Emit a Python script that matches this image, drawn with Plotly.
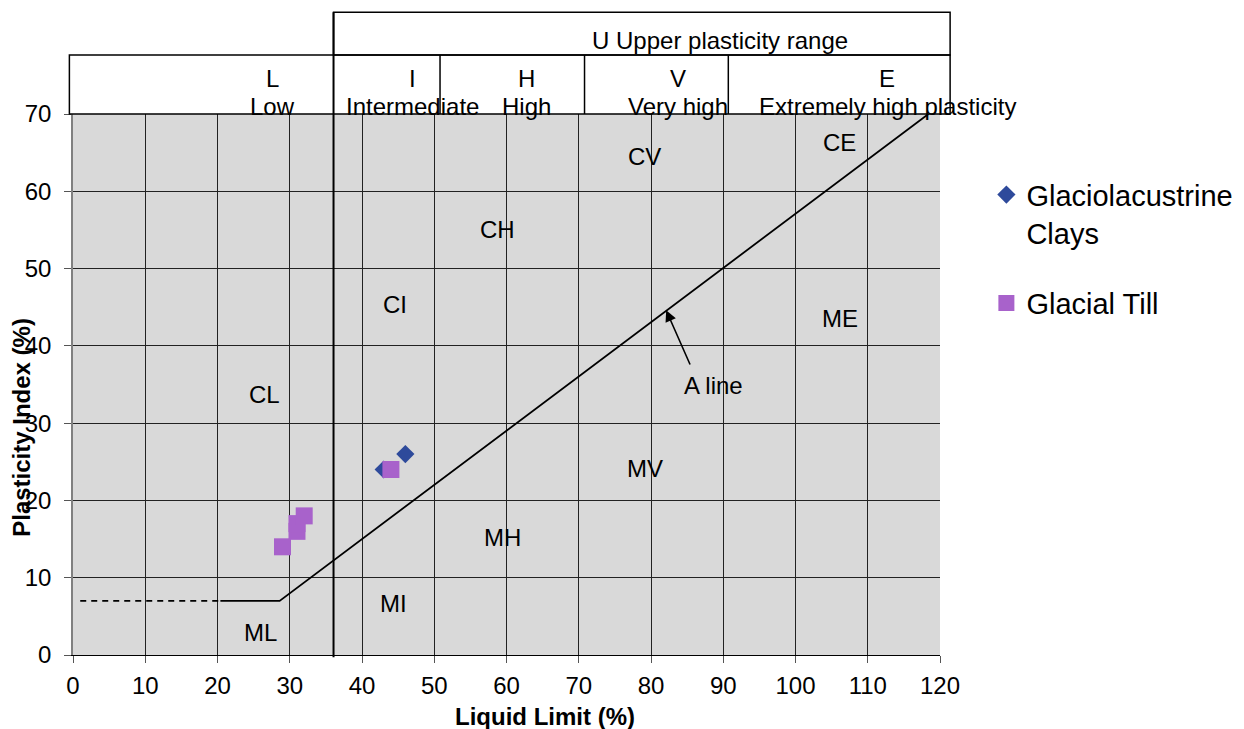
import plotly.graph_objects as go

# ---- data ----
clay_ll = [43, 46]
clay_pi = [24, 26]
till_ll = [44, 29, 31, 31, 32]
till_pi = [24, 14, 16, 17, 18]

aline_ll = [20.4, 28.6, 118.4]
aline_pi = [7, 7, 70]
dash_ll = [1, 20.4]
dash_pi = [7, 7]

zone_labels = ["CL", "ML", "MI", "CI", "CH", "MH", "CV", "MV", "CE", "ME"]
zone_ll = [26.5, 25.9, 44.3, 44.6, 58.7, 59.5, 79.1, 79.2, 106.1, 106.2]
zone_pi = [33.7, 2.9, 6.6, 45.3, 55.0, 15.2, 64.5, 24.1, 66.3, 43.5]

band_letters = ["L", "I", "H", "V", "E"]
band_names = ["Low", "Intermediate", "High", "Very high", "Extremely high plasticity"]
band_x = [27.6, 47.0, 62.8, 83.7, 112.7]
band_edges = [-0.5, 36.06, 50.8, 70.8, 90.7, 121.4]
upper_label = "U Upper plasticity range"

xticks = list(range(0, 121, 10))
yticks = list(range(0, 71, 10))

X_MAX, Y_MAX = 120.0, 70.0
FONT = "Arial, Liberation Sans, sans-serif"
FS = 24


def px_(v):
    return v / X_MAX


def py_(v):
    return v / Y_MAX


fig = go.Figure()

fig.add_trace(go.Scatter(x=dash_ll, y=dash_pi, mode="lines",
                         line=dict(color="black", width=1.6, dash="6px,5px"),
                         showlegend=False, hoverinfo="skip"))
fig.add_trace(go.Scatter(x=aline_ll, y=aline_pi, mode="lines",
                         line=dict(color="black", width=1.8),
                         showlegend=False, hoverinfo="skip"))

fig.add_trace(go.Scatter(x=clay_ll, y=clay_pi, mode="markers",
                         name="Glaciolacustrine<br>Clays", legendgroup="a",
                         marker=dict(symbol="diamond", size=14, color="#2E4A9B"),
                         cliponaxis=False))
fig.add_trace(go.Scatter(x=till_ll, y=till_pi, mode="markers",
                         name="Glacial Till", legendgroup="b",
                         marker=dict(symbol="square", size=17, color="#A862CB"),
                         cliponaxis=False))

txt_font = dict(size=FS, color="black", family=FONT)

# zone labels
for t, x, y in zip(zone_labels, zone_ll, zone_pi):
    fig.add_annotation(x=x, y=y, text=t, showarrow=False, font=txt_font)

# A line label and arrow
fig.add_annotation(x=88.6, y=34.9, text="A line", showarrow=False, font=txt_font)
fig.add_annotation(x=82.1, y=44.6, ax=85.5, ay=37.4, axref="x", ayref="y",
                   text="", showarrow=True, arrowhead=2, arrowsize=1.4,
                   arrowwidth=1.6, arrowcolor="black")

# header boxes (paper coordinates, since they lie outside the axis ranges)
Y_TOP, Y_MID, Y_BOT = 83.15, 77.63, 70.0
box_line = dict(color="black", width=1.5)
fig.add_shape(type="rect", x0=px_(band_edges[1]), x1=px_(band_edges[-1]),
              y0=py_(Y_MID), y1=py_(Y_TOP),
              xref="paper", yref="paper", line=box_line, layer="above")
fig.add_shape(type="rect", x0=px_(band_edges[0]), x1=px_(band_edges[-1]),
              y0=py_(Y_BOT), y1=py_(Y_MID),
              xref="paper", yref="paper", line=box_line, layer="above")
for e in band_edges[2:-1]:
    fig.add_shape(type="line", x0=px_(e), x1=px_(e), y0=py_(Y_BOT), y1=py_(Y_MID),
                  xref="paper", yref="paper", line=box_line, layer="above")
# thick vertical boundary line at LL = 36
fig.add_shape(type="line", x0=px_(band_edges[1]), x1=px_(band_edges[1]),
              y0=py_(-0.3), y1=py_(Y_TOP),
              xref="paper", yref="paper", line=dict(color="black", width=2), layer="above")

fig.add_annotation(x=px_(89.6), y=py_(79.45), text=upper_label, showarrow=False,
                   xref="paper", yref="paper", xanchor="center", yanchor="middle",
                   font=txt_font)
for L, n, x in zip(band_letters, band_names, band_x):
    fig.add_annotation(x=px_(x), y=py_(74.6), text=L, showarrow=False,
                       xref="paper", yref="paper", xanchor="center", yanchor="middle",
                       font=txt_font)
    fig.add_annotation(x=px_(x), y=py_(70.95), text=n, showarrow=False,
                       xref="paper", yref="paper", xanchor="center", yanchor="middle",
                       font=txt_font)

# axis titles
fig.add_annotation(x=-0.0588, y=0.42, xref="paper", yref="paper",
                   xanchor="center", yanchor="middle",
                   text="<b>Plasticity Index (%)</b>", textangle=-90, showarrow=False,
                   font=dict(size=24, color="black", family=FONT))
fig.add_annotation(x=(545 - 73) / 867, y=-(716 - 655) / 541, xref="paper", yref="paper",
                   xanchor="center", yanchor="middle",
                   text="<b>Liquid Limit (%)</b>", showarrow=False,
                   font=dict(size=24, color="black", family=FONT))

fig.update_xaxes(range=[0, X_MAX], tickvals=xticks, showgrid=True, gridcolor="#222222",
                 gridwidth=1, zeroline=False, showline=True, linecolor="black",
                 linewidth=1, ticks="outside", ticklen=7, tickcolor="#555555",
                 ticklabelstandoff=2,
                 tickfont=dict(size=FS, color="black", family=FONT))
fig.update_yaxes(range=[0, Y_MAX], tickvals=yticks, showgrid=True, gridcolor="#222222",
                 gridwidth=1, zeroline=False, showline=True, linecolor="#808080",
                 linewidth=1.5, ticks="outside", ticklen=7, tickcolor="#555555",
                 ticklabelstandoff=8,
                 tickfont=dict(size=FS, color="black", family=FONT))

fig.update_layout(
    width=1244, height=729,
    margin=dict(l=73, r=304, t=114, b=74, autoexpand=False),
    paper_bgcolor="white", plot_bgcolor="#D9D9D9",
    font=dict(family=FONT, color="black"),
    legend=dict(x=1.0535, y=0.898, xanchor="left", yanchor="top",
                font=dict(size=29, color="black", family=FONT),
                valign="top", traceorder="grouped", tracegroupgap=30,
                bgcolor="rgba(0,0,0,0)", itemwidth=30),
    showlegend=True,
)

fig.write_html("out.html")
